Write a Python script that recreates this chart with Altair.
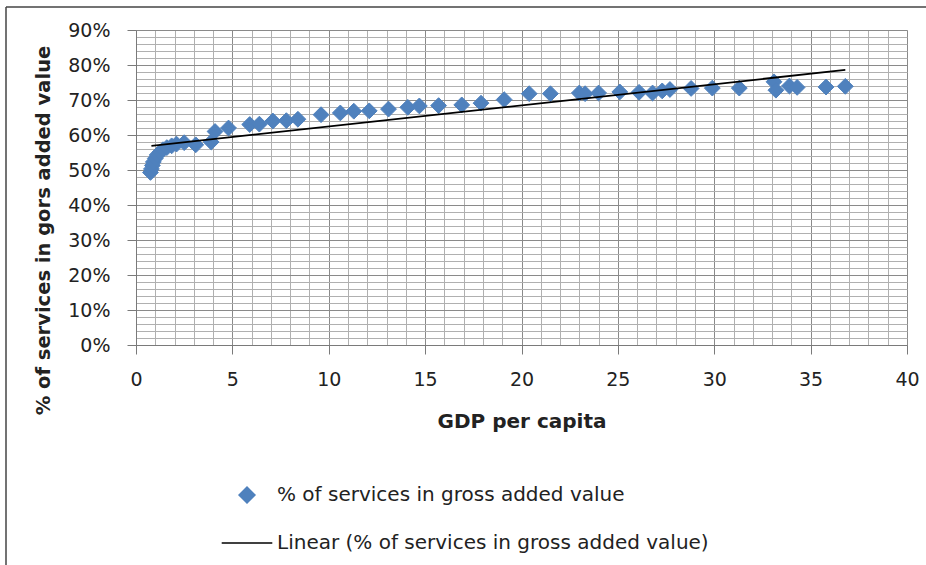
import altair as alt
import pandas as pd

# GDP per capita (x) and % of services in gross added value (y)
GDP = [0.75, 0.8, 0.85, 0.9, 1.0, 1.1, 1.25, 1.4, 1.6, 1.85, 2.1, 2.5, 3.1, 3.9, 4.1, 4.8,
       5.9, 6.4, 7.1, 7.8, 8.4, 9.6, 10.6, 11.3, 12.1, 13.1, 14.1, 14.7, 15.7, 16.9, 17.9,
       19.1, 20.4, 21.5, 23.0, 23.3, 24.0, 25.1, 26.1, 26.8, 27.3, 27.7, 28.8, 29.9, 31.3,
       33.1, 33.2, 33.9, 34.3, 35.8, 36.8]
SHARE = [49.3, 50.3, 51.3, 52.3, 53.3, 54.3, 55.1, 55.8, 56.4, 56.9, 57.4, 57.8, 57.2, 58.0,
         61.0, 62.0, 63.0, 63.1, 64.0, 64.1, 64.5, 65.8, 66.3, 66.8, 66.9, 67.4, 67.9, 68.3,
         68.4, 68.6, 69.1, 70.1, 71.8, 71.8, 72.0, 71.8, 72.0, 72.3, 72.2, 72.0, 72.6, 73.0,
         73.3, 73.4, 73.4, 75.2, 72.8, 74.0, 73.6, 73.7, 73.9]
TREND_X = [0.8, 36.8]
TREND_Y = [56.9, 78.6]

S1 = "% of services in gross added value"
S2 = "Linear (% of services in gross added value)"

X_GRID = list(range(0, 41))
Y_GRID = list(range(0, 91, 2))

pts = pd.DataFrame({"gdp": GDP, "share": SHARE, "series": [S1] * len(GDP)})
trend = pd.DataFrame({"gdp": TREND_X, "share": TREND_Y})

FONT = "DejaVu Sans"
BLUE = "#4f81bd"

x_scale = alt.Scale(domain=[0, 40], nice=False, zero=False)
y_scale = alt.Scale(domain=[0, 90], nice=False)

x_axis = alt.Axis(
    values=X_GRID,
    labelExpr="datum.value % 5 === 0 ? datum.label : ''",
    labelOverlap=False, labelBound=False, labelFlush=False,
    labelFont=FONT, labelFontSize=19, labelColor="#222", labelPadding=16,
    grid=True,
    gridColor={"condition": {"test": "datum.value % 5 === 0", "value": "#8a8a8a"}, "value": "#b0b0b0"},
    gridWidth=1,
    tickColor="#7a7a7a", tickSize=9,
    tickOpacity={"condition": {"test": "datum.value % 5 === 0", "value": 1}, "value": 0},
    domainColor="#7a7a7a",
    title="GDP per capita", titleFont=FONT, titleFontSize=20, titleFontWeight="bold",
    titleColor="#222", titleY=76, titleBaseline="middle",
)

y_axis = alt.Axis(
    values=Y_GRID,
    labelExpr="datum.value % 10 === 0 ? datum.value + '%' : ''",
    labelOverlap=False, labelBound=False, labelFlush=False,
    labelFont=FONT, labelFontSize=19, labelColor="#222", labelPadding=17,
    grid=True,
    gridColor={"condition": {"test": "datum.value % 10 === 0", "value": "#8a8a8a"}, "value": "#b0b0b0"},
    gridWidth=1,
    tickColor="#7a7a7a", tickSize=9,
    tickOpacity={"condition": {"test": "datum.value % 10 === 0", "value": 1}, "value": 0},
    domainColor="#7a7a7a",
    title="% of services in gors added value", titleFont=FONT, titleFontSize=19.5,
    titleFontWeight="bold", titleColor="#222", titleAngle=270, titleX=-93, titleY=200,
    titleBaseline="middle", titleAlign="center",
)

legend = alt.Legend(
    title=None, orient="none", legendX=101, legendY=455, direction="vertical",
    labelFont=FONT, labelFontSize=20, labelColor="#222", labelOffset=20, labelLimit=800,
    symbolSize=250, symbolStrokeWidth=1.6, rowPadding=26, padding=0,
)

dom = [S1, S2]
points = alt.Chart(pts).mark_point(size=250, opacity=1, strokeWidth=1).encode(
    x=alt.X("gdp:Q", scale=x_scale, axis=x_axis),
    y=alt.Y("share:Q", scale=y_scale, axis=y_axis),
    fill=alt.Fill("series:N", scale=alt.Scale(domain=dom, range=[BLUE, "transparent"]), legend=legend),
    stroke=alt.Stroke("series:N", scale=alt.Scale(domain=dom, range=[BLUE, "#000000"]), legend=legend),
    shape=alt.Shape("series:N", scale=alt.Scale(domain=dom, range=["diamond", "M-3.2,0H3.2"]), legend=legend),
)

line = alt.Chart(trend).mark_line(color="#000000", strokeWidth=1.8).encode(
    x=alt.X("gdp:Q", scale=x_scale, axis=x_axis),
    y=alt.Y("share:Q", scale=y_scale, axis=y_axis),
)

one = pd.DataFrame({"k": [0]})
frame_left = alt.Chart(one).mark_rule(color="#444", strokeWidth=1.5).encode(
    x=alt.value(-130), y=alt.value(-23), y2=alt.value(600)
)
frame_top = alt.Chart(one).mark_rule(color="#444", strokeWidth=1.5).encode(
    x=alt.value(-130), x2=alt.value(1000), y=alt.value(-23)
)

chart = alt.layer(points, line, frame_left, frame_top).properties(
    width=771, height=315,
    autosize=alt.AutoSizeParams(type="none"),
    padding={"left": 136, "top": 30, "right": 19, "bottom": 220},
).configure_view(stroke=None).configure(background="white")

chart.save("out.html", embed_options={"renderer": "svg", "actions": False})
